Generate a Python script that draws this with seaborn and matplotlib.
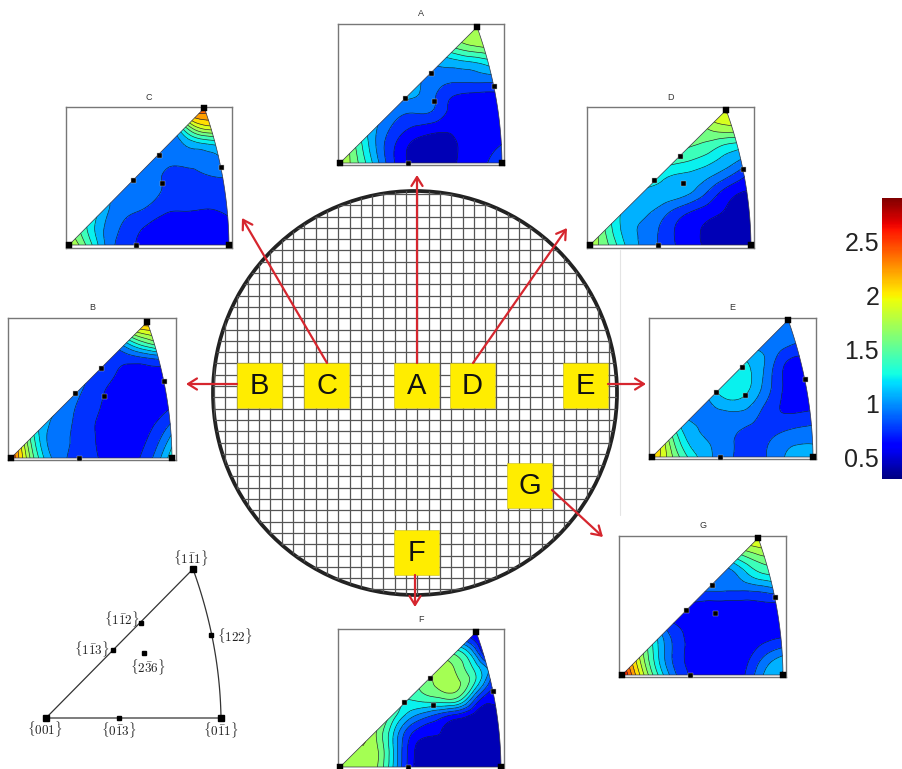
import numpy as np
import matplotlib
matplotlib.use("Agg")
import matplotlib.pyplot as plt
import matplotlib.tri as mtri
from matplotlib.path import Path
from matplotlib.patches import PathPatch, Circle, Rectangle
from matplotlib.colors import Normalize
from matplotlib.cm import ScalarMappable
import seaborn as sns

# ---------- data ----------
row_v = [0, .12, .25, .38, .5, .62, .72, .82, .92, 1]
row_n = [9, 8, 7, 6, 6, 5, 4, 3, 2, 1]

panel_a = [[1.78,1.49,1.0,.58,.43,.43,.52,.63,.72],
           [1.52,1.0,.62,.42,.42,.5,.58,.68],
           [1.05,.77,.6,.53,.51,.53,.55],
           [.93,.84,.8,.55,.54,.55],
           [1.03,.93,.74,.64,.62,.62],
           [.96,.9,.88,.9,.92],
           [1.0,1.05,1.1,1.2],
           [1.4,1.52,1.58],
           [1.72,1.76],
           [1.85]]
panel_b = [[2.6,1.7,1.03,.8,.69,.6,.6,.84,1.3],
           [1.75,1.0,.83,.7,.59,.58,.72,1.12],
           [1.05,.87,.71,.6,.57,.62,.85],
           [.95,.76,.63,.55,.55,.63],
           [.86,.72,.6,.55,.55,.56],
           [.78,.68,.58,.58,.6],
           [.72,.72,.78,.84],
           [1.0,1.3,1.5],
           [1.85,1.95],
           [2.45]]
panel_c = [[1.85,1.47,.94,.7,.6,.58,.58,.59,.6],
           [1.4,.98,.78,.62,.58,.56,.57,.6],
           [1.1,.86,.8,.67,.65,.64,.67],
           [.9,.88,.81,.75,.71,.71],
           [.9,.88,.76,.76,.81,.84],
           [.9,.88,.89,.9,.97],
           [.92,.97,1.08,1.15],
           [1.15,1.62,1.75],
           [2.15,2.2],
           [2.4]]
panel_d = [[1.66,1.5,1.1,.9,.7,.55,.45,.38,.36],
           [1.5,1.08,.93,.72,.55,.45,.39,.36],
           [1.13,1.02,.87,.68,.56,.46,.38],
           [1.12,1.08,1.02,.82,.56,.47],
           [1.18,1.12,1.08,.98,.82,.63],
           [1.38,1.3,1.2,1.08,.95],
           [1.48,1.42,1.28,1.2],
           [1.55,1.62,1.62],
           [1.85,1.9],
           [2.0]]
panel_e = [[2.15,1.72,1.27,.99,.83,.74,.88,1.05,1.1],
           [1.75,1.15,.98,.86,.72,.84,.95,.96],
           [1.05,.94,.87,.84,.72,.75,.8],
           [.9,1.05,1.03,.78,.6,.6],
           [1.2,1.25,1.08,.8,.58,.58],
           [1.22,1.12,.86,.6,.6],
           [1.1,.95,.72,.64],
           [.88,.88,.82],
           [.9,.88],
           [.9]]
panel_f = [[1.72,1.72,1.6,.9,.42,.38,.36,.36,.36],
           [1.72,1.7,1.03,.45,.38,.36,.36,.36],
           [1.72,1.14,.6,.5,.38,.36,.36],
           [1.45,1.02,.8,.6,.42,.37],
           [1.3,1.38,1.45,1.35,.72,.55],
           [1.55,1.68,1.65,1.28,.7],
           [1.7,1.62,1.32,.95],
           [1.5,1.2,.55],
           [.8,.5],
           [.55]]
panel_g = [[2.85,1.98,1.25,.75,.58,.56,.63,1.0,1.15],
           [1.95,1.2,.72,.58,.55,.57,.85,1.05],
           [1.25,.76,.58,.55,.55,.62,.7],
           [.66,.57,.54,.54,.55,.57],
           [.62,.58,.57,.57,.6,.6],
           [.86,.85,.85,.88,.95],
           [.9,.98,1.2,1.3],
           [1.2,1.42,1.55],
           [1.75,1.82],
           [1.9]]

panel_names = ["A", "B", "C", "D", "E", "F", "G"]
panel_values = [panel_a, panel_b, panel_c, panel_d, panel_e, panel_f, panel_g]
# boxes in pixels: left, right, top, bottom; then origin x, y, width, height of the triangle
panel_box = [(338,504,24,165),(8,176,318,460),(66,232,107,248),(587,754,107,248),
             (649,816,318,459),(338,504,629,771),(619,786,536,677)]
panel_tri = [(340,163,162,136),(11,458,161,136),(69,245,160,137),(590,245,161,135),
             (652,457,161,137),(340,767,161,135),(622,675,161,137)]
levels = [.17,.33,.49,.65,.82,.98,1.14,1.30,1.47,1.63,1.79,1.95,2.12,2.28,2.44,2.60,2.77,2.93]

pole_u = [0, .42, 1, .846, .562, .40, .951, .58]
pole_v = [0, 0, 0, 1, .66, .478, .566, .456]
pole_big = [True, False, True, True, False, False, False, False]
key_u = [0, .417, 1, .84, .543, .383, .943, .56]
key_v = [0, 0, 0, 1, .638, .456, .557, .436]
pole_labels = [r"$\{001\}$", r"$\{0\bar{1}3\}$", r"$\{0\bar{1}1\}$", r"$\{1\bar{1}1\}$",
               r"$\{1\bar{1}2\}$", r"$\{1\bar{1}3\}$", r"$\{122\}$", r"$\{2\bar{3}6\}$"]
pole_label_xy = [(45,729),(119,730),(221,730),(191,558),(122,619),(92,649),(235,636),(148,667)]

box_labels = ["A", "B", "C", "D", "E", "F", "G"]
box_xy = [(394,363),(237,363),(304,363),(450,363),(563,363),(394,530),(507,463)]
arrow_from = [(417,363),(237,384),(327,363),(473,363),(608,384),(415,575),(552,490)]
arrow_to = [(417,175),(186,384),(242,218),(567,228),(646,384),(415,607),(603,537)]
cbar_ticks = [0.5, 1, 1.5, 2, 2.5]
cbar_ticklabels = ["0.5", "1", "1.5", "2", "2.5"]

# ---------- setup ----------
W, H = 902, 769
sns.set_theme(style="white", font="Liberation Sans")
plt.rcParams["mathtext.fontset"] = "cm"
cmap = plt.get_cmap("jet")
norm = Normalize(0.305, 2.907)
band_norm = Normalize(0.28, 2.88)
fig = plt.figure(figsize=(W/100, H/100), dpi=100)

def px_axes(x0, x1, y0, y1, **kw):
    return fig.add_axes([x0/W, 1-y1/H, (x1-x0)/W, (y1-y0)/H], **kw)

def right_edge(v):
    return 1 - .007*v - .147*v*v

def edge_path():
    vs = np.linspace(0, 1, 40)
    pts = [(0, 0)] + [(right_edge(v), v) for v in vs] + [(0, 0)]
    return Path(pts)

xs, ys = [], []
for v, n in zip(row_v, row_n):
    left, right = .846*v, right_edge(v)
    xs += list(np.linspace(left, right, n)) if n > 1 else [.846]
    ys += [v]*n
xs, ys = np.array(xs), np.array(ys)
cx, cy = xs.mean(), ys.mean()
xs_g, ys_g = cx+(xs-cx)*1.03, cy+(ys-cy)*1.03
triang = mtri.Triangulation(xs_g, ys_g)
refiner = mtri.UniformTriRefiner(triang)

# ---------- wafer and arrows ----------
bg = px_axes(0, W, 0, H, zorder=1)
bg.set_xlim(0, W); bg.set_ylim(H, 0); bg.axis("off")
wafer = Circle((415, 393), 202, transform=bg.transData, fc="none")
grid_x = 417.3 + 11.3*np.arange(-19, 19)
grid_y = 261.7 + 11.3*np.arange(-7, 30)
vl = bg.vlines(grid_x, 190, 596, color="#555555", lw=.9)
hl = bg.hlines(grid_y, 211, 619, color="#555555", lw=.9)
vl.set_clip_path(wafer); hl.set_clip_path(wafer)
bg.add_patch(Circle((415, 393), 202, fc="none", ec="#222222", lw=2.7))
bg.plot([620, 620], [250, 515], color="#e4e4e4", lw=.8)
for (x, y), t in zip(box_xy, box_labels):
    bg.add_patch(Rectangle((x, y), 45, 45, fc="#FFED00", ec="#C9BC20", lw=.4, zorder=3))
    bg.text(x+22.5, y+23, t, ha="center", va="center", fontsize=21, color="#111111", zorder=4)
for a, b in zip(arrow_from, arrow_to):
    bg.annotate("", xy=b, xytext=a, zorder=5,
                arrowprops=dict(arrowstyle="->,head_length=0.4,head_width=0.25", color="#D6262E",
                                lw=1.6, shrinkA=0, shrinkB=0, mutation_scale=16))

# ---------- key triangle ----------
vs = np.linspace(0, 1, 40)
key_x = 46 + 175*np.concatenate([[0, 1], [right_edge(v)-.006*v for v in vs], [0]])
key_y = 718 - 149*np.concatenate([[0, 0], vs, [0]])
bg.plot(key_x, key_y, color="#333333", lw=.9)
for u, v, big in zip(key_u, key_v, pole_big):
    bg.plot(46+175*u, 718-149*v, "s", color="black", ms=4.4 if big else 3)
for (x, y), t in zip(pole_label_xy, pole_labels):
    bg.text(x, y, t, ha="center", va="center", fontsize=9.5, color="#222222")

# ---------- pole-figure panels ----------
clip = edge_path()
for name, vals, box, tr in zip(panel_names, panel_values, panel_box, panel_tri):
    x0, x1, y0, y1 = box
    ox, oy, tw, th = tr
    ax = px_axes(x0, x1, y0, y1, zorder=2)
    ax.set_xlim((x0-ox)/tw, (x1-ox)/tw)
    ax.set_ylim((oy-y1)/th, (oy-y0)/th)
    z = np.concatenate([np.array(r, float) for r in vals])
    tri_ref, z_ref = refiner.refine_field(z, subdiv=3)
    cf = ax.tricontourf(tri_ref, z_ref, levels=levels, cmap=cmap, norm=band_norm, extend="both")
    cl = ax.tricontour(tri_ref, z_ref, levels=levels, colors="#10203a", linewidths=.45)
    patch = PathPatch(clip, transform=ax.transData, fc="none", ec="none")
    ax.add_patch(patch)
    cf.set_clip_path(patch); cl.set_clip_path(patch)
    ax.plot(*clip.vertices.T, color="#333344", lw=.5)
    for u, v, big in zip(pole_u, pole_v, pole_big):
        ax.plot(u, v, "s", color="black", ms=4.2 if big else 3.6, clip_on=False, zorder=6,
                mec="#bbbbbb" if not big else "black", mew=.3)
    ax.set_xticks([]); ax.set_yticks([])
    for s in ax.spines.values():
        s.set_visible(True); s.set_color("#777777"); s.set_linewidth(1)
    bg.text((x0+x1)/2, y0-10, name, ha="center", va="center", fontsize=6.5, color="#333333")

# ---------- colour bar ----------
cax = px_axes(882, 903, 198, 479, zorder=2)
cb = fig.colorbar(ScalarMappable(norm=norm, cmap=cmap), cax=cax)
cb.outline.set_visible(False)
cb.set_ticks(cbar_ticks, labels=cbar_ticklabels)
cax.yaxis.set_ticks_position("left")
cax.tick_params(axis="y", direction="in", length=2, width=.5, labelsize=18,
                labelcolor="#222222", color="#555555", pad=2)

fig.savefig("out.png", dpi=100)
